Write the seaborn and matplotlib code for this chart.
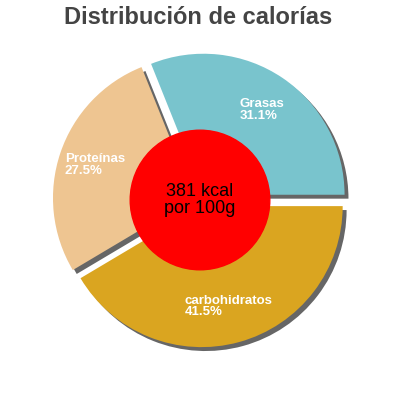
import matplotlib
matplotlib.use("Agg")
import matplotlib.pyplot as plt
import numpy as np
import seaborn as sns

# data
categories = ["Grasas", "Proteínas", "carbohidratos"]
percents = [31.1, 27.5, 41.5]
colors = ["#79c4cd", "#eec591", "#daa520"]
center_text = "381 kcal\npor 100g"
title = "Distribución de calorías"

# label anchors (data units, left-aligned)
label_pos = [(0.28, 0.64), (-0.96, 0.25), (-0.11, -0.755)]

sns.set_theme(style="white")
plt.rcParams["font.family"] = ["Liberation Sans", "DejaVu Sans"]

fig = plt.figure(figsize=(4, 4), dpi=100)
ax = fig.add_axes([0, 0, 1, 1])

ax.pie(
    percents,
    colors=colors,
    startangle=0,
    counterclock=True,
    explode=[0.045] * len(percents),
    radius=1.0,
    shadow={"ox": 0.02, "oy": -0.02, "facecolor": "#666666",
            "edgecolor": "#666666", "alpha": 1.0},
    wedgeprops={"linewidth": 0},
)

ax.add_patch(plt.Circle((0, 0), 0.495, color="#ff0000", zorder=5))
ax.text(0, 0.0, center_text, ha="center", va="center", fontsize=13,
        color="black", linespacing=0.95, zorder=6)

for name, pct, (x, y) in zip(categories, percents, label_pos):
    ax.text(x, y, f"{name}\n{pct:.1f}%", ha="left", va="center",
            fontsize=9.5, fontweight="bold", color="white", linespacing=0.95,
            zorder=6)

lim = 200 / 141
ax.set_xlim(-lim, lim)
ax.set_ylim(-lim, lim)
ax.set_aspect("equal")
ax.axis("off")

fig.text(0.495, 1 - 17 / 400, title, ha="center", va="center",
         fontsize=17, fontweight="bold", color="#444444")

fig.savefig("out.png", dpi=100, facecolor="white")
